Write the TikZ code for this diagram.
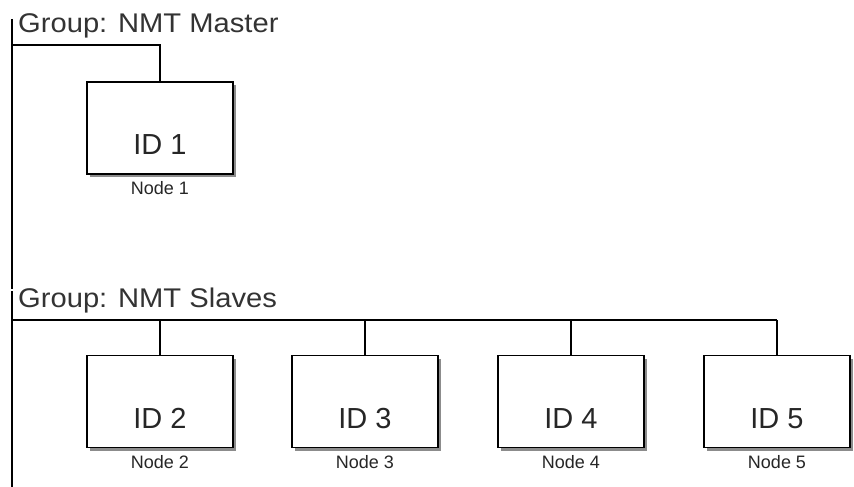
\documentclass[tikz,border=0pt]{standalone}
\usepackage{fontspec}
\setmainfont{Liberation Sans}
\begin{document}
\begin{tikzpicture}[x=1pt,y=-1pt,
  line/.style={line width=1.2pt,black},
  idbox/.style={draw=black,line width=1.2pt,fill=white,minimum width=146pt,minimum height=92pt,inner sep=0pt,outer sep=0pt},
  shadowbox/.style={fill=black!45,minimum width=146pt,minimum height=92pt,inner sep=0pt,outer sep=0pt},
  idtext/.style={font=\fontsize{29}{32}\selectfont,text=black!85},
  nodelabel/.style={font=\fontsize{18}{20}\selectfont,text=black!85,anchor=center},
  grouptitle/.style={font=\fontsize{27}{30}\selectfont,text=black!80,anchor=base west,inner sep=0pt}
]
\useasboundingbox (0,0) rectangle (854,487);
\fill[white] (0,0) rectangle (854,487);

% group titles
\node[grouptitle] (gm) at (18,33) {\scalebox{1.08}[1]{Group: NMT Master}};
\node[grouptitle] (gs) at (18,307) {\scalebox{1.08}[1]{Group: NMT Slaves}};

% left spine
\coordinate (sp1) at (12,19);
\coordinate (sp2) at (12,289);
\coordinate (sp3) at (12,291);
\coordinate (sp4) at (12,487);
\draw[line] (sp1) -- (sp2);
\draw[line] (sp3) -- (sp4);

% boxes
\foreach \n/\x/\y in {1/160/128, 2/160/401.5, 3/365/401.5, 4/571/401.5, 5/777/401.5}{
  \node[shadowbox] (sh\n) at (\x+3,\y+3) {};
  \node[idbox] (b\n) at (\x,\y) {};
  \node[idtext] (t\n) at (\x,\y+17) {ID \n};
  \node[nodelabel] (l\n) at (\x,\y+60.5) {Node \n};
}

% master bus
\coordinate (m0) at (12,45);
\draw[line] (m0) -| (b1.north);

% slaves bus
\coordinate (s0) at (12,320);
\coordinate (s5) at (777,320);
\draw[line] (s0) -- (s5);
\foreach \n in {2,3,4,5}{
  \draw[line] (b\n.north |- s0) -- (b\n.north);
}
\end{tikzpicture}
\end{document}
